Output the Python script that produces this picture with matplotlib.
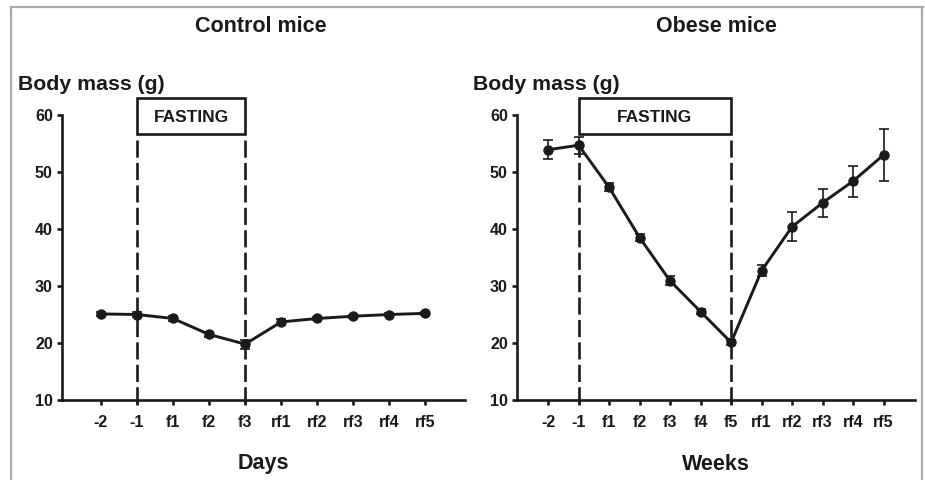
import matplotlib
matplotlib.use("Agg")
import matplotlib.pyplot as plt
from matplotlib.patches import Rectangle
from matplotlib.lines import Line2D

plt.rcParams['font.family'] = ['Liberation Sans', 'DejaVu Sans']
plt.rcParams['font.weight'] = 'bold'

# datos - ratones control (dias)
control_labels = ['-2', '-1', 'f1', 'f2', 'f3', 'rf1', 'rf2', 'rf3', 'rf4', 'rf5']
control_mass = [25.1, 25.0, 24.3, 21.5, 19.8, 23.7, 24.3, 24.7, 25.0, 25.2]
control_err = [0.4, 0.5, 0.4, 0.4, 0.8, 0.5, 0.3, 0.3, 0.3, 0.3]

# datos - ratones obesos (semanas)
obese_labels = ['-2', '-1', 'f1', 'f2', 'f3', 'f4', 'f5', 'rf1', 'rf2', 'rf3', 'rf4', 'rf5']
obese_mass = [53.9, 54.7, 47.3, 38.5, 30.9, 25.5, 20.1, 32.7, 40.4, 44.6, 48.4, 53.0]
obese_err = [1.7, 1.5, 0.7, 0.6, 0.8, 0.4, 0.4, 0.9, 2.5, 2.5, 2.7, 4.5]

titles = ['Control mice', 'Obese mice']
xlabels = ['Days', 'Weeks']
fasting_start = ['-1', '-1']
fasting_end = ['f3', 'f5']

ink = '#1a1a1a'
W, H = 925, 480
fig = plt.figure(figsize=(9.25, 4.8), dpi=100)

def fx(px):
    return px / W

def fy(py):
    return 1 - py / H

# marco gris
for xs, ys in [((11, 923), (7, 7)), ((11, 11), (7, 480)), ((922, 922), (7, 480))]:
    fig.add_artist(Line2D([fx(x) for x in xs], [fy(y) for y in ys],
                          transform=fig.transFigure, color='#ababab', lw=1.6))

axes_px = [(62, 465), (517, 915)]
xlims = [(-1.08, 10.1), (-1.02, 12.03)]
datasets = [(control_labels, control_mass, control_err),
            (obese_labels, obese_mass, obese_err)]
title_x = [261, 716]
ylab_x = [18, 473]

for i in range(2):
    labels, mass, err = datasets[i]
    x0, x1 = axes_px[i]
    ax = fig.add_axes([fx(x0), fy(400), fx(x1 - x0), fy(115) - fy(400)])
    xs = list(range(len(labels)))
    ax.errorbar(xs, mass, yerr=err, color=ink, lw=2.1, marker='o', ms=6.5,
                capsize=3.5, elinewidth=1.2, capthick=1.2, zorder=3)
    ax.set_xlim(*xlims[i])
    ax.set_ylim(10, 60)
    ax.set_yticks([10, 20, 30, 40, 50, 60])
    ax.set_xticks(xs)
    ax.set_xticklabels(labels)
    for s in ['top', 'right']:
        ax.spines[s].set_visible(False)
    for s in ['left', 'bottom']:
        ax.spines[s].set_linewidth(1.9)
        ax.spines[s].set_color(ink)
    ax.tick_params(axis='both', length=3.6, width=1.9, color=ink,
                   labelsize=11.5, labelcolor=ink)
    ax.tick_params(axis='x', pad=7)
    ax.tick_params(axis='y', pad=3)
    for lab in ax.get_xticklabels() + ax.get_yticklabels():
        lab.set_fontweight('bold')

    # ayuno: caja y lineas discontinuas
    a = labels.index(fasting_start[i])
    b = labels.index(fasting_end[i])
    ax.add_patch(Rectangle((a, 56.7), b - a, 6.3, fill=False, ec=ink, lw=1.9,
                           clip_on=False))
    ax.text((a + b) / 2, 59.5, 'FASTING', ha='center', va='center',
            fontsize=12.5, fontweight='bold', color=ink, clip_on=False)
    for xv in (a, b):
        ax.plot([xv, xv], [55.7, 8.8], color=ink, lw=1.9,
                linestyle=(0, (6.5, 2)), clip_on=False, zorder=2)

    fig.text(fx(title_x[i]), fy(26), titles[i], ha='center', va='center',
             fontsize=15.5, fontweight='bold', color=ink)
    fig.text(fx(ylab_x[i]), fy(85), 'Body mass (g)', ha='left', va='center',
             fontsize=15.3, fontweight='bold', color=ink)
    fig.text(fx((x0 + x1) / 2), fy(464), xlabels[i], ha='center', va='center',
             fontsize=15.5, fontweight='bold', color=ink)

plt.savefig('out.png', dpi=100)
